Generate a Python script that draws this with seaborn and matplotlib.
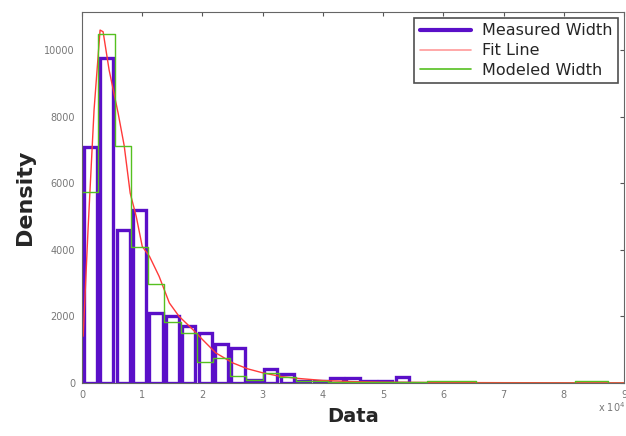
import numpy as np
import pandas as pd
import matplotlib
matplotlib.use("Agg")
import matplotlib.pyplot as plt
import seaborn as sns
from matplotlib.lines import Line2D

# bin layout (data in units of 1e4), 33 bins over 0..9
bin_width = 3.0 / 11.0
bin_edges = [i * bin_width for i in range(34)]
bin_centers = [e + bin_width / 2 for e in bin_edges[:-1]]

# measured histogram heights (only the first 20 bins hold data)
measured = [7100, 9750, 4600, 5200, 2100, 2000, 1700, 1500, 1170, 1050,
            80, 420, 250, 40, 40, 150, 150, 40, 40, 180]

# modeled histogram heights, one per bin
modeled = [5720, 10470, 7130, 4070, 2980, 1820, 1490, 640, 750, 210,
           90, 300, 180, 60, 40, 30, 20, 20, 15, 10,
           10, 40, 40, 40, 0, 0, 0, 0, 0, 0, 40, 40, 0]

# fit line
fit_x = [0.02, 0.1, 0.2, 0.3, 0.35, 0.45, 0.6, 0.7, 0.8, 0.9, 1.0, 1.12,
         1.28, 1.45, 1.61, 1.84, 2.0, 2.22, 2.5, 2.75, 3.0, 3.3, 3.6,
         4.0, 4.5, 5.0, 6.0, 7.0, 8.0, 9.0]
fit_y = [1400, 4600, 8200, 10600, 10550, 9400, 8100, 7130, 5700, 5000, 4100, 3800,
         3200, 2400, 2000, 1600, 1300, 900, 600, 420, 300, 190, 130,
         70, 35, 20, 8, 4, 2, 1]

purple = "#5a0fc8"
red = "#ff3a3a"
green = "#55c020"

sns.set_style("white")
plt.rcParams['font.family'] = ['DejaVu Sans']

fig = plt.figure(figsize=(6.26, 4.36), dpi=100)
ax = fig.add_axes([0.131, 0.122, 0.866, 0.851])

n_meas = len(measured)
df_meas = pd.DataFrame({"x": bin_centers[:n_meas], "w": measured})
df_mod = pd.DataFrame({"x": bin_centers, "w": modeled})

sns.histplot(data=df_meas, x="x", weights="w", bins=bin_edges[:n_meas + 1],
             element="bars", fill=False, shrink=0.8, color=purple,
             linewidth=2.4, ax=ax)
sns.lineplot(x=fit_x, y=fit_y, color=red, linewidth=1.0, ax=ax)
sns.histplot(data=df_mod, x="x", weights="w", bins=bin_edges, element="step",
             fill=False, color=green, linewidth=1.0, ax=ax)

ax.set_xlim(0, 9)
ax.set_ylim(0, 11150)
ax.set_xticks(range(10))
ax.set_yticks([0, 2000, 4000, 6000, 8000, 10000])
ax.tick_params(direction="in", length=3, top=True, right=True,
               labelsize=7, labelcolor="#777777", color="#555555", pad=5)
for s in ax.spines.values():
    s.set_color("#666666")
    s.set_linewidth(0.8)

ax.set_xlabel("Data", fontsize=14, fontweight="bold", labelpad=5)
ax.set_ylabel("Density", fontsize=16, fontweight="bold", labelpad=7)
fig.text(0.955, 0.055, r"x 10$^4$", fontsize=7, color="#777777", ha="left")

handles = [Line2D([], [], color=purple, linewidth=3),
           Line2D([], [], color="#ff9a9a", linewidth=1.2),
           Line2D([], [], color=green, linewidth=1.2)]
leg = ax.legend(handles, ["Measured Width", "Fit Line", "Modeled Width"],
                loc="upper right", bbox_to_anchor=(0.989, 0.984), fontsize=11.5,
                frameon=True, fancybox=False, edgecolor="#222222",
                handlelength=3.2, handletextpad=0.7, labelspacing=0.3,
                borderpad=0.35, borderaxespad=0)
leg.get_frame().set_linewidth(1.2)

fig.savefig("out.png", dpi=100)
